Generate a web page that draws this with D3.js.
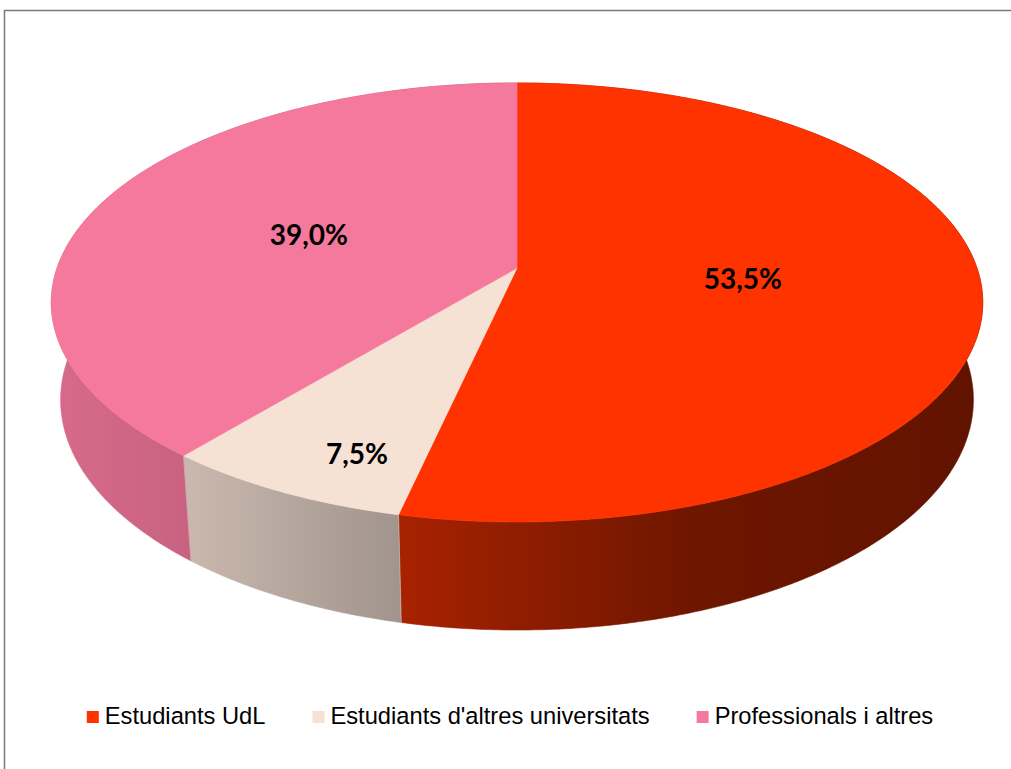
<!DOCTYPE html>
<html>
<head>
<meta charset="utf-8">
<script src="https://cdn.jsdelivr.net/npm/d3@7"></script>
<style>
  html, body { margin: 0; padding: 0; background: #fff; overflow: hidden; }
</style>
</head>
<body>
<div id="chart"></div>
<script>
// data
const categories = ["Estudiants UdL", "Estudiants d'altres universitats", "Professionals i altres"];
const values = [53.5, 7.5, 39.0];
const valueLabels = ["53,5%", "7,5%", "39,0%"];
const topColors = ["#FF3300", "#F6E1D5", "#F5799D"];

const width = 1011, height = 769;

const svg = d3.select("#chart").append("svg")
    .attr("width", width)
    .attr("height", height);

// chart area frame (runs off the right and bottom edges)
svg.append("rect")
    .attr("x", 4.5).attr("y", 10.5)
    .attr("width", 1100).attr("height", 900)
    .attr("fill", "none")
    .attr("stroke", "#7a7a7a")
    .attr("stroke-width", 1.5);

// perspective camera for the 3D pie
const cx = 517, cy = 268;
const sinPhi = 0.4654, cosPhi = Math.sqrt(1 - sinPhi * sinPhi);
const D = 5.6375, f = 2593;
const depth = 0.2416;

// angle in degrees clockwise from 12 o'clock, r as share of radius, h depth down
function project(angle, r, h) {
    const a = angle * Math.PI / 180;
    const x = r * Math.sin(a), z = -r * Math.cos(a), y = -h;
    const yc = y * cosPhi - z * sinPhi;
    const dc = y * sinPhi + z * cosPhi;
    return [cx + f * x / (D - dc), cy - f * yc / (D - dc)];
}

const angle = d3.scaleLinear().domain([0, d3.sum(values)]).range([0, 360]);
const pie = d3.pie().sort(null).value(d => d)(values);
const slices = pie.map((p, i) => ({
    i,
    a0: angle(d3.sum(values.slice(0, i))),
    a1: angle(d3.sum(values.slice(0, i + 1)))
}));

function arcPoints(a0, a1, h) {
    const n = Math.max(2, Math.ceil((a1 - a0) / 0.5));
    return d3.range(n + 1).map(k => project(a0 + (a1 - a0) * k / n, 1, h));
}

// side shading, lighter on the left, darker on the right
const shade = [[0, 0.88], [0.14, 0.82], [0.37, 0.66], [0.69, 0.43], [1, 0.38]];
const defs = svg.append("defs");
slices.forEach(s => {
    const base = d3.rgb(topColors[s.i]);
    const g = defs.append("linearGradient")
        .attr("id", "side" + s.i)
        .attr("gradientUnits", "userSpaceOnUse")
        .attr("x1", 51).attr("x2", 983).attr("y1", 0).attr("y2", 0);
    shade.forEach(([o, k]) => {
        g.append("stop")
            .attr("offset", o)
            .attr("stop-color", d3.rgb(base.r * k, base.g * k, base.b * k).formatHex());
    });
});

const line = d3.line();

// outer walls
svg.append("g").selectAll("path")
    .data(slices)
    .join("path")
    .attr("d", s => line(arcPoints(s.a0, s.a1, 0).concat(arcPoints(s.a0, s.a1, depth).reverse())) + "Z")
    .attr("fill", s => `url(#side${s.i})`)
    .attr("stroke", s => `url(#side${s.i})`)
    .attr("stroke-width", 0.6);

// thin light seams between walls
svg.append("g").selectAll("line")
    .data(slices)
    .join("line")
    .attr("x1", s => project(s.a0, 1, 0)[0]).attr("y1", s => project(s.a0, 1, 0)[1])
    .attr("x2", s => project(s.a0, 1, depth)[0]).attr("y2", s => project(s.a0, 1, depth)[1])
    .attr("stroke", "#ffffff")
    .attr("stroke-opacity", 0.35)
    .attr("stroke-width", 0.8);

// top faces
svg.append("g").selectAll("path")
    .data(slices)
    .join("path")
    .attr("d", s => line([project(0, 0, 0)].concat(arcPoints(s.a0, s.a1, 0))) + "Z")
    .attr("fill", s => topColors[s.i])
    .attr("stroke", s => topColors[s.i])
    .attr("stroke-width", 0.6);

// data labels: radius share and angle nudge per slice
const labelPlace = [{r: 0.49, da: 0}, {r: 0.824, da: -4.3}, {r: 0.49, da: -1}];
svg.append("g").selectAll("text")
    .data(slices)
    .join("text")
    .attr("x", s => project((s.a0 + s.a1) / 2 + labelPlace[s.i].da, labelPlace[s.i].r, 0)[0])
    .attr("y", s => project((s.a0 + s.a1) / 2 + labelPlace[s.i].da, labelPlace[s.i].r, 0)[1])
    .attr("dy", "0.35em")
    .attr("text-anchor", "middle")
    .attr("font-family", "Lato, 'Open Sans', sans-serif")
    .attr("font-weight", "bold")
    .attr("font-size", 28)
    .attr("fill", "#000")
    .text(s => valueLabels[s.i]);

// legend
const legend = svg.append("g")
    .attr("font-family", "'Liberation Sans', Arial, sans-serif")
    .attr("font-size", 23.7)
    .attr("fill", "#000");

const items = legend.selectAll("g")
    .data(categories)
    .join("g");

items.append("rect")
    .attr("width", 12)
    .attr("height", 12)
    .attr("y", 711)
    .attr("fill", (d, i) => topColors[i]);

items.append("text")
    .attr("x", 18)
    .attr("y", 724)
    .text(d => d);

let xPos = 84;
const gap = 47;
items.each(function() {
    const g = d3.select(this);
    g.attr("transform", `translate(${xPos},0)`);
    xPos += 18 + g.select("text").node().getComputedTextLength() + gap;
});
const total = xPos - gap;
const shift = 510 - (84 + total) / 2;
items.each(function(d, i) {
    const g = d3.select(this);
    const t = g.attr("transform").match(/translate\(([-\d.]+)/)[1];
    g.attr("transform", `translate(${+t + shift},0)`);
});
</script>
</body>
</html>
